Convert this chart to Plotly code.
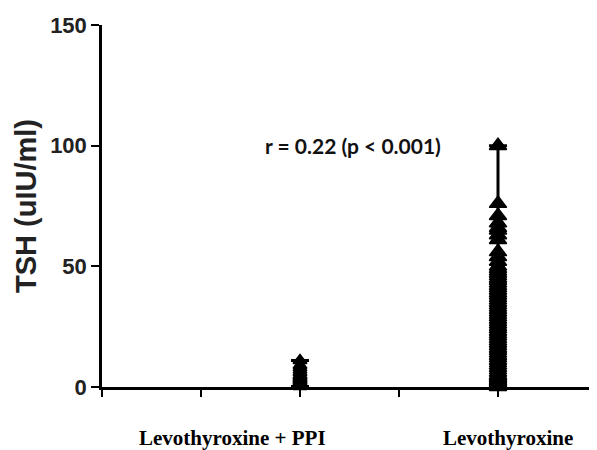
import plotly.graph_objects as go

# ---- data ----
group_labels = ["Levothyroxine + PPI", "Levothyroxine"]
group_positions = [1.0, 2.0]

tsh_ppi = [11, 9, 8, 7, 6, 5, 4.5, 4, 3.5, 3, 2.5, 2, 1.5, 1.2, 1.0, 0.8, 0.6, 0.4, 0.2]

tsh_levo = [100, 76, 71, 68, 66, 65, 63, 61, 56, 54, 52, 50, 49, 48,
            47, 46, 45, 44, 43, 42, 41, 40, 39, 38, 37, 36, 35, 34, 33, 32,
            31, 30, 29, 28, 27, 26, 25, 24, 23, 22, 21, 20, 19, 18, 17, 16,
            15, 14, 13, 12, 11, 10, 9, 8, 7, 6, 5, 4.5, 4, 3.5, 3, 2.5, 2,
            1.5, 1.2, 1.0, 0.8, 0.6, 0.4, 0.2, 0.1]

annotation_text = "r = 0.22 (p < 0.001)"
y_title = "TSH (uIU/ml)"
y_ticks = [0, 50, 100, 150]

groups = [tsh_ppi, tsh_levo]
marker_sizes = [12, 15]

fig = go.Figure()

for pos, vals, msize in zip(group_positions, groups, marker_sizes):
    vmin, vmax = min(vals), max(vals)
    fig.add_trace(go.Scatter(
        x=[pos], y=[vmin], mode="markers",
        marker=dict(size=1, color="rgba(0,0,0,0)"),
        error_y=dict(type="data", symmetric=False, array=[vmax - vmin],
                     arrayminus=[0], color="black", thickness=3, width=9),
        showlegend=False, hoverinfo="skip", cliponaxis=False,
    ))
    fig.add_trace(go.Scatter(
        x=[pos] * len(vals), y=vals, mode="markers",
        marker=dict(symbol="triangle-up", size=msize, color="black",
                    line=dict(color="black", width=1.5)),
        showlegend=False, cliponaxis=False,
    ))

fig.add_annotation(x=1.27, y=100, xref="x", yref="y", text=annotation_text,
                   showarrow=False, font=dict(family="Lato", size=21, color="#111", weight="bold"))

label_x = [0.657, 2.05]
for lx, lab in zip(label_x, group_labels):
    fig.add_annotation(x=lx, y=0, xref="x", yref="paper", yshift=-51,
                       yanchor="middle", text=lab, showarrow=False,
                       font=dict(family="Liberation Serif", size=21, color="black", weight="bold"))

fig.add_annotation(x=0, y=0.5, xref="paper", yref="paper", xshift=-76,
                   text=y_title, textangle=-90, showarrow=False,
                   xanchor="center", yanchor="middle",
                   font=dict(family="Liberation Sans", size=29, color="#222", weight="bold"))

fig.update_layout(
    width=589, height=442,
    margin=dict(l=94, r=0, t=17, b=63),
    paper_bgcolor="white", plot_bgcolor="white",
    xaxis=dict(range=[0, 2.5], showgrid=False, zeroline=False,
               showline=True, linecolor="black", linewidth=2.5,
               ticks="outside", tickvals=[0, 0.5, 1.0, 1.5, 2.0],
               ticklen=7, tickwidth=2, tickcolor="black", showticklabels=False),
    yaxis=dict(range=[0, 150], showgrid=False, zeroline=False,
               showline=True, linecolor="black", linewidth=2.5,
               ticks="outside", tickvals=y_ticks, ticklen=8, tickwidth=2,
               tickcolor="black",
               tickfont=dict(family="Liberation Sans", size=22, color="#222", weight="bold")),
)

fig.write_html("out.html")
